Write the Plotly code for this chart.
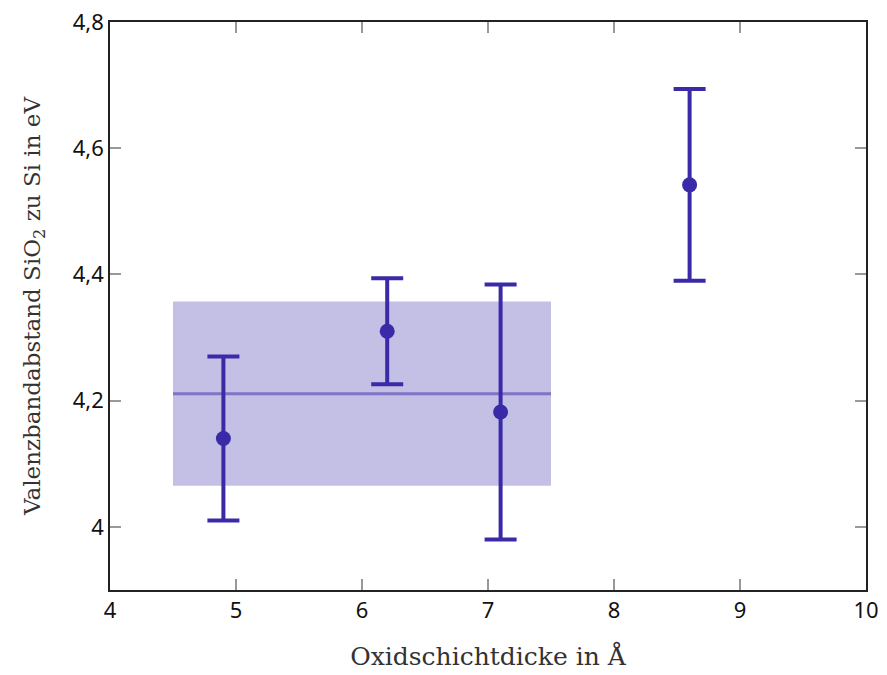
import plotly.graph_objects as go

# Data
thickness = [4.9, 6.2, 7.1, 8.6]
gap = [4.14, 4.31, 4.182, 4.542]
gap_err = [0.13, 0.084, 0.202, 0.152]
band_x = [4.5, 7.5]
band_mean = 4.211
band_std = 0.146
x_ticks = [4, 5, 6, 7, 8, 9, 10]
x_ticktext = ["4", "5", "6", "7", "8", "9", "10"]
y_ticks = [4.0, 4.2, 4.4, 4.6, 4.8]
y_ticktext = ["4", "4,2", "4,4", "4,6", "4,8"]

base = "rgb(58,42,168)"
serif = "DejaVu Serif"
sans = "Noto Sans"

fig = go.Figure()

# shaded band (mean ± std)
fig.add_trace(go.Scatter(
    x=[band_x[0], band_x[1], band_x[1], band_x[0], band_x[0]],
    y=[band_mean - band_std, band_mean - band_std, band_mean + band_std,
       band_mean + band_std, band_mean - band_std],
    fill="toself", fillcolor="rgba(58,42,168,0.3)", mode="lines",
    line=dict(width=0), hoverinfo="skip", showlegend=False))
# mean line
fig.add_trace(go.Scatter(
    x=band_x, y=[band_mean, band_mean], mode="lines",
    line=dict(color="rgba(58,42,168,0.5)", width=3), showlegend=False))

# data with error bars
fig.add_trace(go.Scatter(
    x=thickness, y=gap, mode="markers",
    marker=dict(color=base, size=15),
    error_y=dict(type="data", array=gap_err, visible=True,
                 color=base, thickness=4, width=16),
    showlegend=False))

axis_common = dict(
    showgrid=False, zeroline=False, showline=True, linecolor="#222",
    linewidth=1.5, mirror="allticks", ticks="inside", ticklen=11,
    tickcolor="#999", tickwidth=1.5, automargin=False,
    tickfont=dict(family=sans, size=22, color="#111"))

fig.update_xaxes(range=[4, 10], tickvals=x_ticks, ticktext=x_ticktext,
                 title=dict(text="Oxidschichtdicke in Å",
                            font=dict(family=serif, size=25, color="#333"),
                            standoff=24),
                 **axis_common)
fig.update_yaxes(range=[3.9, 4.8], tickvals=y_ticks, ticktext=y_ticktext,
                 title=dict(text="Valenzbandabstand SiO<sub>2</sub> zu Si in eV",
                            font=dict(family=serif, size=23, color="#333"),
                            standoff=26),
                 **axis_common)

fig.update_layout(
    width=887, height=675, plot_bgcolor="white", paper_bgcolor="white",
    margin=dict(l=110, r=21, t=22, b=85))

fig.write_html("out.html")
